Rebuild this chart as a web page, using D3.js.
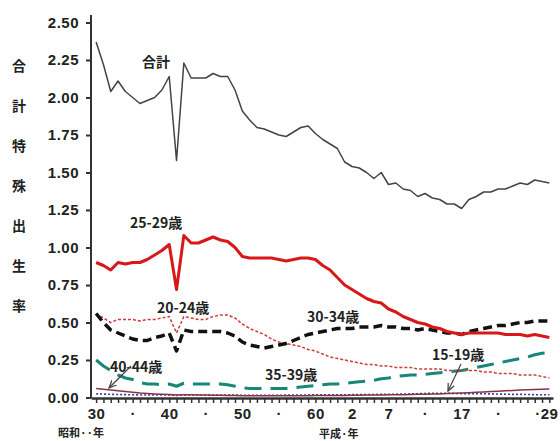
<!DOCTYPE html>
<html><head><meta charset="utf-8">
<script src="https://cdn.jsdelivr.net/npm/d3@7"></script>
<style>
html,body{margin:0;padding:0;background:#fff;}
svg{display:block;}
.num{font-family:"Liberation Sans",Arial,sans-serif;font-weight:bold;fill:#222;}
.jp{font-family:"Noto Sans CJK JP",sans-serif;font-weight:bold;fill:#222;}
</style></head>
<body>
<svg id="c" width="560" height="441"></svg>
<script>
const years = d3.range(1955, 2018);
const total = [2.37,2.22,2.04,2.11,2.04,2.00,1.96,1.98,2.00,2.05,2.14,1.58,2.23,2.13,2.13,2.13,2.16,2.14,2.14,2.05,1.91,1.85,1.80,1.79,1.77,1.75,1.74,1.77,1.80,1.81,1.76,1.72,1.69,1.66,1.57,1.54,1.53,1.50,1.46,1.50,1.42,1.43,1.39,1.38,1.34,1.36,1.33,1.32,1.29,1.29,1.26,1.32,1.34,1.37,1.37,1.39,1.39,1.41,1.43,1.42,1.45,1.44,1.43];
const age25_29 = [0.90,0.88,0.85,0.90,0.89,0.90,0.90,0.92,0.95,0.98,1.02,0.72,1.08,1.03,1.03,1.05,1.07,1.05,1.04,1.00,0.94,0.93,0.93,0.93,0.93,0.92,0.91,0.92,0.93,0.93,0.92,0.88,0.85,0.80,0.75,0.72,0.69,0.66,0.64,0.63,0.59,0.57,0.54,0.52,0.50,0.49,0.47,0.46,0.44,0.43,0.42,0.43,0.43,0.43,0.43,0.43,0.42,0.42,0.42,0.41,0.42,0.41,0.40];
const age20_24 = [0.56,0.53,0.50,0.52,0.52,0.52,0.51,0.52,0.52,0.53,0.54,0.43,0.54,0.53,0.52,0.52,0.54,0.55,0.55,0.53,0.49,0.46,0.44,0.42,0.39,0.37,0.36,0.35,0.34,0.32,0.31,0.29,0.27,0.26,0.25,0.24,0.23,0.22,0.22,0.21,0.21,0.20,0.20,0.20,0.19,0.19,0.19,0.19,0.18,0.18,0.18,0.18,0.18,0.17,0.17,0.16,0.16,0.16,0.15,0.15,0.15,0.14,0.13];
const age30_34 = [0.56,0.50,0.45,0.43,0.41,0.39,0.38,0.38,0.40,0.41,0.43,0.31,0.45,0.44,0.44,0.44,0.44,0.44,0.43,0.41,0.37,0.35,0.34,0.33,0.34,0.35,0.36,0.38,0.40,0.42,0.43,0.44,0.45,0.46,0.46,0.46,0.47,0.47,0.47,0.48,0.47,0.47,0.46,0.46,0.45,0.46,0.45,0.44,0.43,0.43,0.42,0.44,0.45,0.46,0.47,0.48,0.48,0.49,0.50,0.50,0.51,0.51,0.51];
const age35_39 = [0.25,0.21,0.18,0.15,0.13,0.12,0.10,0.09,0.09,0.085,0.09,0.075,0.095,0.09,0.09,0.09,0.09,0.09,0.085,0.075,0.065,0.06,0.06,0.06,0.06,0.06,0.06,0.065,0.07,0.075,0.08,0.085,0.09,0.09,0.095,0.10,0.105,0.11,0.115,0.125,0.13,0.14,0.145,0.15,0.15,0.155,0.16,0.165,0.17,0.175,0.18,0.19,0.20,0.21,0.22,0.23,0.24,0.25,0.26,0.27,0.285,0.295,0.30];
const age40_44 = [0.06,0.055,0.05,0.045,0.04,0.035,0.03,0.027,0.024,0.022,0.02,0.017,0.019,0.018,0.017,0.016,0.015,0.015,0.014,0.013,0.012,0.011,0.011,0.011,0.011,0.011,0.011,0.012,0.012,0.012,0.013,0.013,0.014,0.014,0.014,0.015,0.015,0.016,0.016,0.017,0.018,0.018,0.019,0.020,0.021,0.022,0.023,0.024,0.026,0.028,0.030,0.032,0.035,0.037,0.040,0.042,0.045,0.047,0.050,0.052,0.054,0.055,0.056];
const age15_19 = [0.025,0.023,0.021,0.020,0.019,0.018,0.017,0.017,0.017,0.017,0.017,0.014,0.017,0.017,0.017,0.017,0.017,0.016,0.016,0.016,0.015,0.015,0.015,0.015,0.015,0.015,0.016,0.016,0.017,0.017,0.018,0.018,0.018,0.018,0.018,0.019,0.019,0.020,0.020,0.021,0.021,0.022,0.023,0.024,0.025,0.027,0.028,0.028,0.028,0.027,0.026,0.025,0.025,0.025,0.024,0.023,0.022,0.021,0.021,0.020,0.019,0.018,0.018];
const yTicks = [0,0.25,0.5,0.75,1.0,1.25,1.5,1.75,2.0,2.25,2.5];
const xLabelYears = [1955,1960,1965,1970,1975,1980,1985,1990,1995,2000,2005,2010,2017];
const xLabels = ["30","·","40","·","50","·","60","2","7","·","17","·","·29"];
const yTitle = "合計特殊出生率";

const svg = d3.select("#c");
const x = d3.scaleLinear().domain([1954.3, 2017.5]).range([91, 553]);
const y = d3.scaleLinear().domain([0, 2.5]).range([397.5, 22.5]);

// axes
const yAxis = d3.axisLeft(y).tickValues(yTicks).tickFormat(d3.format(".2f")).tickSize(5).tickSizeOuter(0);
const gy = svg.append("g").attr("transform","translate(91,0)").call(yAxis);
gy.select(".domain").attr("d","M0,15V398").attr("stroke","#333").attr("stroke-width",2);
gy.selectAll(".tick line").attr("stroke","#333").attr("stroke-width",2);
gy.selectAll(".tick text").attr("class","num").attr("font-size",15).attr("x",-12).attr("letter-spacing",0.5);

const labelMap = new Map(xLabelYears.map((d,i)=>[d,xLabels[i]]));
const xAxis = d3.axisBottom(x).tickValues(years).tickFormat(d=>labelMap.get(d)||"").tickSize(5).tickSizeOuter(0);
const gx = svg.append("g").attr("transform","translate(0,398)").call(xAxis);
gx.select(".domain").attr("stroke","#333").attr("stroke-width",2.5);
gx.selectAll(".tick line").attr("stroke","#333").attr("stroke-width",1.5);
gx.selectAll(".tick text").attr("class","num").attr("font-size",15).attr("y",10).attr("letter-spacing",0.5)
  .attr("dx", d=> d===2017 ? -3 : 0);

svg.append("text").attr("class","jp").attr("font-size",11).attr("x",58).attr("y",437).text("昭和··年");
svg.append("text").attr("class","jp").attr("font-size",11).attr("x",319).attr("y",438).text("平成·年");

// y title
svg.append("g").selectAll("text").data(Array.from(yTitle)).join("text")
  .attr("class","jp").attr("font-size",14).attr("text-anchor","middle")
  .attr("x",19).attr("y",(d,i)=>71+i*40).text(d=>d);

const line = d3.line().x((d,i)=>x(years[i])).y(d=>y(d));
const series = [
  {v:age15_19, c:"#3a3aa0", w:1.6, dash:"2,2"},
  {v:age40_44, c:"#8a3048", w:1.5, dash:null},
  {v:age35_39, c:"#17877a", w:3, dash:"17,9"},
  {v:age20_24, c:"#d03a3a", w:1.5, dash:"3,2"},
  {v:age30_34, c:"#111", w:3.5, dash:"9,5"},
  {v:age25_29, c:"#d81818", w:3, dash:null},
  {v:total, c:"#444", w:1.5, dash:null}
];
svg.append("g").selectAll("path").data(series).join("path")
  .attr("d",d=>line(d.v)).attr("fill","none").attr("stroke",d=>d.c)
  .attr("stroke-width",d=>d.w).attr("stroke-dasharray",d=>d.dash)
  .attr("stroke-linejoin","round");

// labels
const labels = [
  {t:"合計", x:142, y:67},
  {t:"25-29歳", x:130, y:228},
  {t:"20-24歳", x:157, y:313},
  {t:"30-34歳", x:307, y:322},
  {t:"40-44歳", x:110, y:372},
  {t:"35-39歳", x:265, y:380},
  {t:"15-19歳", x:432, y:360}
];
svg.append("g").selectAll("text").data(labels).join("text")
  .attr("class","jp").attr("font-size",14).attr("x",d=>d.x).attr("y",d=>d.y).text(d=>d.t);

// arrows
const defs = svg.append("defs");
defs.append("marker").attr("id","ah").attr("viewBox","0 0 10 10").attr("refX",9).attr("refY",5)
  .attr("markerWidth",7).attr("markerHeight",7).attr("orient","auto")
  .append("path").attr("d","M0,1L9,5L0,9").attr("fill","none").attr("stroke","#444").attr("stroke-width",1.5);
const arrows = [
  {x1:131, y1:366, x2:109, y2:388},
  {x1:461, y1:364, x2:448, y2:391}
];
svg.append("g").selectAll("line").data(arrows).join("line")
  .attr("x1",d=>d.x1).attr("y1",d=>d.y1).attr("x2",d=>d.x2).attr("y2",d=>d.y2)
  .attr("stroke","#444").attr("stroke-width",1.2).attr("marker-end","url(#ah)");
</script>
</body></html>
